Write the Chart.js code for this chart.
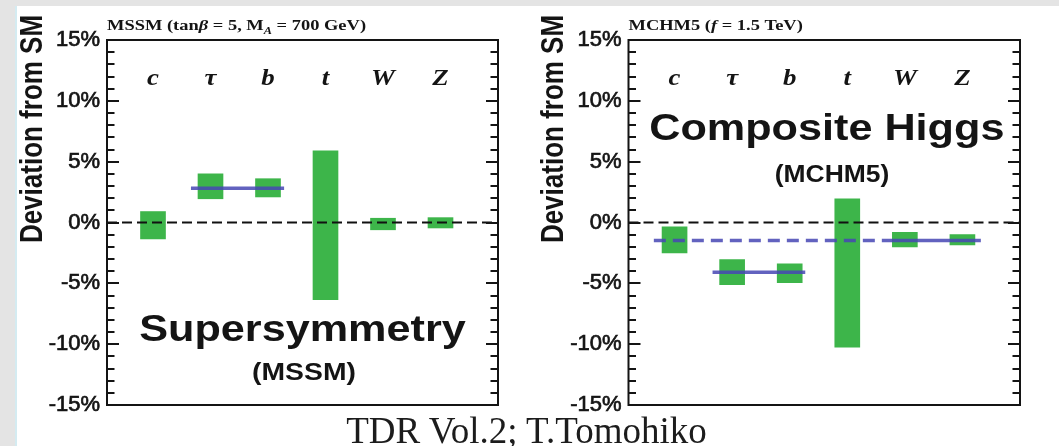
<!DOCTYPE html>
<html>
<head>
<meta charset="utf-8">
<script src="https://cdn.jsdelivr.net/npm/chart.js@4.4.1/dist/chart.umd.min.js"></script>
<style>
  html, body { margin: 0; padding: 0; }
  body { width: 1059px; height: 446px; background: #e4e4e4; position: relative; overflow: hidden; }
  #sheet { position: absolute; left: 15px; top: 6px; right: 0; bottom: 0; background: #fff; border-left: 2px solid #d4ebf1; }
  canvas { position: absolute; top: 0; }
  #mssm { left: 0; }
  #mchm { left: 520px; }
  #credit { position: absolute; left: 0; width: 1053px; top: 412px; line-height: 37px; text-align: center;
            font-family: "Liberation Serif", serif; font-size: 37px; color: #1c1c1c; white-space: nowrap; }
</style>
</head>
<body>
<div id="sheet"></div>
<canvas id="mssm" width="520" height="446"></canvas>
<canvas id="mchm" width="539" height="446"></canvas>
<div id="credit">TDR Vol.2; T.Tomohiko</div>

<script>
// couplings, deviation from the SM in %
const categories = ['c', 'τ', 'b', 't', 'W', 'Z'];

const mssmLow  = [-1.35, 1.95, 2.1, -6.35, -0.6, -0.45];
const mssmHigh = [0.9, 4.0, 3.6, 5.9, 0.35, 0.4];

const mchmLow  = [-2.5, -5.1, -4.95, -10.25, -2.0, -1.85];
const mchmHigh = [-0.35, -3.05, -3.4, 1.95, -0.8, -1.0];

// horizontal guide lines (x in category units)
const mssmTauB = { from: 1.66, to: 3.28, value: 2.82 };
const mchmTauB = { from: 1.66, to: 3.27, value: -4.08 };
const mchmUniversal = { from: 0.64, split: 4.6, to: 6.32, value: -1.48 };

const yMin = -15, yMax = 15, yMajor = 5;

const GREEN = '#3db54a';
const BLUE = 'rgba(70, 70, 180, 0.85)';
const INK = '#141414';

function stretchText(ctx, text, x, y, font, sx, align) {
    ctx.save();
    ctx.font = font;
    ctx.textAlign = align || 'center';
    ctx.textBaseline = 'alphabetic';
    ctx.translate(x, y);
    ctx.scale(sx, 1);
    ctx.fillText(text, 0, 0);
    ctx.restore();
}

// text made of several runs (italic symbols, subscripts)
function drawRuns(ctx, runs, x, y, sx) {
    ctx.save();
    ctx.translate(x, y);
    ctx.scale(sx, 1);
    ctx.textAlign = 'left';
    ctx.textBaseline = 'alphabetic';
    let cx = 0;
    runs.forEach(r => {
        ctx.font = r.font;
        ctx.fillText(r.text, cx, r.dy || 0);
        cx += ctx.measureText(r.text).width;
    });
    ctx.restore();
}

function decorPlugin(cfg) {
    return {
        id: 'panelDecor',
        afterDatasetsDraw(chart) {
            const ctx = chart.ctx;
            const a = chart.chartArea;
            const ys = chart.scales.y;
            ctx.save();
            ctx.strokeStyle = INK;
            ctx.lineWidth = 2;
            ctx.strokeRect(a.left, a.top, a.right - a.left, a.bottom - a.top);
            // inner ticks on both sides, major every 5%
            for (let v = yMin + 1; v < yMax; v++) {
                const py = Math.round(ys.getPixelForValue(v));
                const len = v % yMajor === 0 ? 12 : 7.5;
                ctx.beginPath();
                ctx.moveTo(a.left, py);
                ctx.lineTo(a.left + len, py);
                ctx.moveTo(a.right, py);
                ctx.lineTo(a.right - len, py);
                ctx.stroke();
            }
            ctx.restore();
        },
        afterDraw(chart) {
            const ctx = chart.ctx;
            const a = chart.chartArea;
            const xs = chart.scales.x;
            ctx.save();
            ctx.fillStyle = INK;

            // y axis title
            ctx.save();
            ctx.translate(cfg.yTitleX, 129);
            ctx.rotate(-Math.PI / 2);
            ctx.scale(1, 1.18);
            ctx.font = 'bold 26px "Liberation Sans", Arial, sans-serif';
            ctx.textAlign = 'center';
            ctx.textBaseline = 'alphabetic';
            ctx.fillText('Deviation from SM', 0, 0);
            ctx.restore();

            // model parameters above the frame
            drawRuns(ctx, cfg.titleRuns, a.left, 30, 1.23);

            // coupling names
            categories.forEach((name, i) => {
                stretchText(ctx, name, xs.getPixelForValue(i + 1), a.top + 45,
                    'italic bold 24px "Liberation Serif", serif', 1.12);
            });

            cfg.labels.forEach(l => {
                stretchText(ctx, l.text, l.x, l.y, 'bold ' + l.size + 'px "Liberation Sans", Arial, sans-serif', l.sx);
            });
            ctx.restore();
        }
    };
}

function guide(seg, dash) {
    return {
        type: 'line',
        data: [{ x: seg[0], y: seg[2] }, { x: seg[1], y: seg[2] }],
        borderColor: BLUE,
        borderWidth: 3.5,
        borderDash: dash || [],
        pointRadius: 0,
        order: 1
    };
}

function makePanel(id, low, high, guides, cfg) {
    const bars = categories.map((c, i) => ({ x: i + 1, y: [low[i], high[i]] }));
    return new Chart(document.getElementById(id), {
        type: 'bar',
        data: {
            datasets: [
                {
                    type: 'bar',
                    data: bars,
                    backgroundColor: GREEN,
                    borderWidth: 0,
                    barThickness: 25,
                    order: 3
                },
                {
                    type: 'line',
                    data: [{ x: 0.2, y: 0 }, { x: 7, y: 0 }],
                    borderColor: '#111',
                    borderWidth: 2,
                    borderDash: [10, 5],
                    pointRadius: 0,
                    order: 2
                },
                ...guides
            ]
        },
        options: {
            responsive: false,
            animation: false,
            events: [],
            layout: { padding: { left: 0, top: 40, right: cfg.padRight, bottom: 41 } },
            plugins: { legend: { display: false }, tooltip: { enabled: false } },
            scales: {
                x: { type: 'linear', min: 0.2, max: 7, offset: false, display: false },
                y: {
                    min: yMin,
                    max: yMax,
                    ticks: {
                        stepSize: yMajor,
                        padding: 7,
                        color: INK,
                        textStrokeColor: INK,
                        textStrokeWidth: 0.7,
                        font: { family: '"Liberation Sans", Arial, sans-serif', size: 22 },
                        callback: v => v + '%'
                    },
                    grid: { display: false, drawTicks: false },
                    border: { display: false },
                    afterFit: s => { s.width = cfg.axisWidth; }
                }
            }
        },
        plugins: [decorPlugin(cfg)]
    });
}

const bold15 = 'bold 15px "Liberation Serif", serif';
const ital15 = 'italic bold 15px "Liberation Serif", serif';

makePanel('mssm', mssmLow, mssmHigh,
    [guide([mssmTauB.from, mssmTauB.to, mssmTauB.value])],
    {
        axisWidth: 107,
        padRight: 22,
        yTitleX: 42,
        titleRuns: [
            { text: 'MSSM (tan', font: bold15 },
            { text: 'β', font: ital15 },
            { text: ' = 5, M', font: bold15 },
            { text: 'A', font: 'italic bold 10px "Liberation Serif", serif', dy: 4 },
            { text: ' = 700 GeV)', font: bold15 }
        ],
        labels: [
            { text: 'Supersymmetry', x: 302.5, y: 341, size: 36, sx: 1.2 },
            { text: '(MSSM)', x: 304, y: 380, size: 24, sx: 1.18 }
        ]
    });

makePanel('mchm', mchmLow, mchmHigh,
    [
        guide([mchmUniversal.from, mchmUniversal.split, mchmUniversal.value], [12, 7]),
        guide([mchmUniversal.split, mchmUniversal.to, mchmUniversal.value]),
        guide([mchmTauB.from, mchmTauB.to, mchmTauB.value])
    ],
    {
        axisWidth: 108.5,
        padRight: 39,
        yTitleX: 43,
        titleRuns: [
            { text: 'MCHM5 (', font: bold15 },
            { text: 'f', font: ital15 },
            { text: ' = 1.5 TeV)', font: bold15 }
        ],
        labels: [
            { text: 'Composite Higgs', x: 306.8, y: 140, size: 36, sx: 1.2 },
            { text: '(MCHM5)', x: 312, y: 182, size: 23, sx: 1.15 }
        ]
    });
</script>
</body>
</html>
